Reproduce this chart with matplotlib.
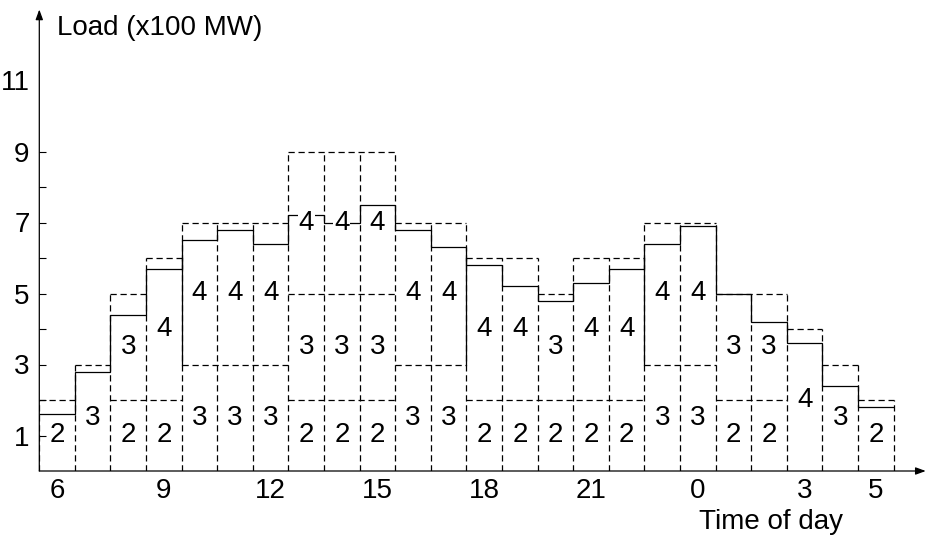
import matplotlib
matplotlib.use('Agg')
import matplotlib.pyplot as plt

# ---- data ----
hours = [6, 7, 8, 9, 10, 11, 12, 13, 14, 15, 16, 17, 18, 19, 20, 21, 22, 23,
         0, 1, 2, 3, 4, 5]
load = [1.6, 2.8, 4.4, 5.7, 6.5, 6.8, 6.4, 7.2, 7.0, 7.5, 6.8, 6.3,
        5.8, 5.2, 4.8, 5.3, 5.7, 6.4, 6.9, 5.0, 4.2, 3.6, 2.4, 1.8]
units = [[2], [3], [2, 3], [2, 4], [3, 4], [3, 4], [3, 4], [2, 3, 4],
         [2, 3, 4], [2, 3, 4], [3, 4], [3, 4], [2, 4], [2, 4], [2, 3],
         [2, 4], [2, 4], [3, 4], [3, 4], [2, 3], [2, 3], [4], [3], [2]]
xtick_hours = [6, 9, 12, 15, 18, 21, 0, 3, 5]
ytick_labels = [1, 3, 5, 7, 9, 11]
ytick_minor = [2, 4, 6, 8]

plt.rcParams['font.family'] = ['Liberation Sans', 'DejaVu Sans']
FS = 20

W, H = 928, 538
fig = plt.figure(figsize=(W / 100, H / 100), dpi=100)
xmax, ymax = 24.9, 13.0
px_x, px_y = 35.6, 35.5
x0, y0 = 39.3, 471.0
ax = fig.add_axes([x0 / W, (H - y0) / H, xmax * px_x / W, ymax * px_y / H])
ax.set_xlim(0, xmax)
ax.set_ylim(0, ymax)
for s in ax.spines.values():
    s.set_visible(False)

dash = (0, (5, 3))
lw = 0.9
n = len(hours)

# stacked capacity segments per hour
stacks = []
for i, us in enumerate(units):
    bottom = 0
    segs = []
    for u in us:
        segs.append((bottom, bottom + u, u))
        ax.text(i + 0.5, bottom + u / 2, str(u), ha='center', va='center',
                fontsize=FS, zorder=5,
                bbox=dict(facecolor='white', edgecolor='none', pad=0.5))
        bottom += u
    stacks.append(segs)
tops = [s[-1][1] for s in stacks]

# vertical dashed edges: one line per boundary from 0 to the taller stack
for i in range(n + 1):
    hl = tops[i - 1] if i > 0 else 0
    hr = tops[i] if i < n else 0
    ax.plot([i, i], [0, max(hl, hr)], color='black', linewidth=lw,
            linestyle=dash, zorder=2)

# horizontal dashed edges: merge contiguous runs at each level
levels = sorted({t for s in stacks for (_, t, _) in s})
for lev in levels:
    has = [any(t == lev for (_, t, _) in s) for s in stacks]
    i = 0
    while i < n:
        if has[i]:
            j = i
            while j < n and has[j]:
                j += 1
            ax.plot([i, j], [lev, lev], color='black', linewidth=lw,
                    linestyle=dash, zorder=2)
            i = j
        else:
            i += 1

# overlapping dashed edges that render as solid (adjacent 4-unit boxes offset by 1)
for i in range(1, n):
    for (b1, t1, u1) in stacks[i - 1]:
        for (b2, t2, u2) in stacks[i]:
            if u1 == 4 and u2 == 4 and abs(b1 - b2) == 1:
                ax.plot([i, i], [max(b1, b2), min(t1, t2)], color='black',
                        linewidth=lw, zorder=3)

# load step line
ax.stairs(load, range(n + 1), baseline=None, color='black', linewidth=lw, zorder=4)

# axes arrows
for xy in [(xmax, 0), (0, ymax)]:
    ax.annotate('', xy=xy, xytext=(0, 0), annotation_clip=False,
                arrowprops=dict(arrowstyle='-|>,head_length=0.6,head_width=0.22',
                                color='black', lw=lw, shrinkA=0, shrinkB=0,
                                mutation_scale=10))

# ticks
xt = [hours.index(h) + 0.5 for h in xtick_hours]
ax.set_xticks(xt)
ax.set_xticklabels([str(h) for h in xtick_hours], fontsize=FS)
ax.tick_params(axis='x', length=0, pad=5)
ax.set_yticks(ytick_labels)
ax.set_yticklabels([str(v) for v in ytick_labels], fontsize=FS)
ax.set_yticks(ytick_minor, minor=True)
ax.tick_params(axis='y', which='both', direction='in', length=5, width=0.8, pad=7)
ax.yaxis.get_major_ticks()[-1].tick1line.set_visible(False)

fig.text(57 / W, (H - 35) / H, 'Load (x100 MW)', fontsize=FS, ha='left', va='baseline')
fig.text(843 / W, (H - 529) / H, 'Time of day', fontsize=FS, ha='right', va='baseline')

fig.savefig('out.png', dpi=100)
